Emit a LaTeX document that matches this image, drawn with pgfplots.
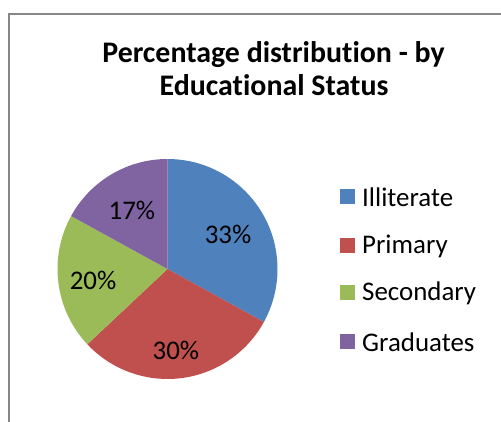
\documentclass[border=0pt]{standalone}
\usepackage{pgfplots}
\pgfplotsset{compat=1.18}
\usepackage{fontspec}
\setmainfont{Carlito}[Ligatures=NoCommon]
\definecolor{cIll}{HTML}{4F81BD}
\definecolor{cPri}{HTML}{C0504D}
\definecolor{cSec}{HTML}{9BBB59}
\definecolor{cGra}{HTML}{8064A2}
\definecolor{frame}{RGB}{134,134,134}
% data (percent)
\def\vA{33}% Illiterate
\def\vB{30}% Primary
\def\vC{20}% Secondary
\def\vD{17}% Graduates
\begin{document}
\begin{tikzpicture}
\path[use as bounding box] (0bp,0bp) rectangle (501bp,422bp);
\draw[line width=2bp, color=frame] (9bp,0bp) -- (9bp,408bp) -- (501bp,408bp);
\begin{axis}[at={(167.5bp,153bp)}, anchor=center, scale only axis,
  width=220bp, height=220bp, xmin=-1, xmax=1, ymin=-1, ymax=1,
  hide axis, clip=false]
\fill[cIll] (axis cs:0,0) -- +(90:110bp) arc[start angle=90, delta angle={-3.6*\vA}, radius=110bp] -- cycle;
\fill[cPri] (axis cs:0,0) -- +({90-3.6*\vA}:110bp) arc[start angle={90-3.6*\vA}, delta angle={-3.6*\vB}, radius=110bp] -- cycle;
\fill[cSec] (axis cs:0,0) -- +({90-3.6*(\vA+\vB)}:110bp) arc[start angle={90-3.6*(\vA+\vB)}, delta angle={-3.6*\vC}, radius=110bp] -- cycle;
\fill[cGra] (axis cs:0,0) -- +({90-3.6*(\vA+\vB+\vC)}:110bp) arc[start angle={90-3.6*(\vA+\vB+\vC)}, delta angle={-3.6*\vD}, radius=110bp] -- cycle;
\node[font=\fontsize{27}{30}\selectfont] at (axis cs:0.55,0.31) {\vA\%};
\node[font=\fontsize{27}{30}\selectfont] at (axis cs:0.077,-0.736) {\vB\%};
\node[font=\fontsize{27}{30}\selectfont] at (axis cs:-0.677,-0.1) {\vC\%};
\node[font=\fontsize{27}{30}\selectfont] at (axis cs:-0.323,0.536) {\vD\%};
\end{axis}
\node[font=\fontsize{30}{33}\selectfont\bfseries, anchor=base] at (273.5bp,359bp) {Percentage distribution - by};
\node[font=\fontsize{30}{33}\selectfont\bfseries, anchor=base] at (274bp,326bp) {Educational Status};
\foreach \c/\t/\y in {cIll/Illiterate/225, cPri/Primary/176, cSec/Secondary/129, cGra/Graduates/80}{
  \fill[\c] (340bp,\y bp-7.5bp) rectangle (355bp,\y bp+7.5bp);
  \node[anchor=west, inner sep=0pt, font=\fontsize{27}{30}\selectfont] at (362bp,\y bp) {\t};
}
\end{tikzpicture}
\end{document}
